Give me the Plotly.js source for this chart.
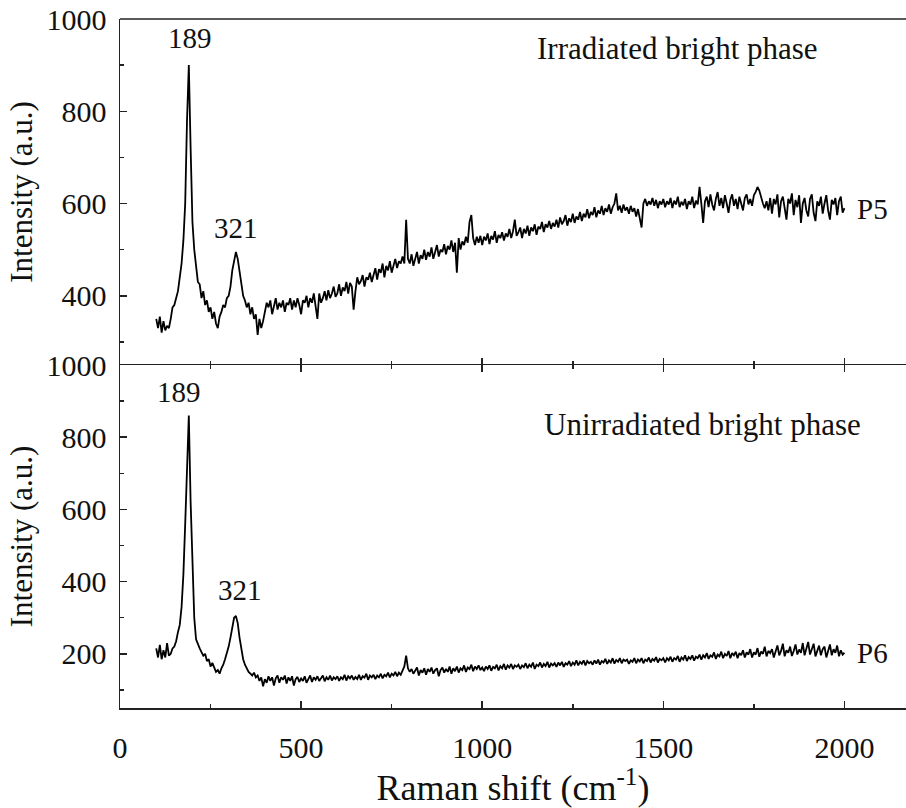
<!DOCTYPE html>
<html>
<head>
<meta charset="utf-8">
<script src="https://cdn.plot.ly/plotly-3.0.1.min.js"></script>
<style>html,body{margin:0;padding:0;background:#fff;}#chart{width:906px;height:808px;}</style>
</head>
<body>
<div id="chart"></div>
<script>
// Raman shift (cm^-1), 100..2000 every 5
const ramanShift = [];
for (let v = 100; v <= 2000; v += 5) ramanShift.push(v);

// P5: irradiated bright phase (one row = 100 cm^-1)
const p5Intensity = [
  350,330,355,320,345,325,335,330,350,375,380,395,410,440,470,520,600,780,900,720,
  560,500,460,430,425,395,410,380,390,365,375,350,365,340,330,355,365,380,375,395,
  400,420,455,480,495,480,450,425,400,390,375,385,360,375,350,360,315,350,330,345,
  365,385,375,390,360,380,395,370,385,375,390,365,385,380,395,370,390,375,395,380,
  360,390,385,400,375,395,385,405,380,350,405,385,395,410,390,412,395,405,420,398,
  405,425,400,418,410,430,405,428,420,370,410,440,425,432,445,420,440,435,450,430,
  445,460,435,458,450,470,440,465,455,475,450,468,480,460,475,470,485,470,565,480,
  470,490,465,480,495,470,488,480,500,478,495,485,505,480,498,510,485,500,495,512,
  490,508,500,520,495,515,450,525,500,518,510,528,515,560,575,525,510,528,515,530,
  510,528,520,535,512,530,522,540,515,532,525,538,520,535,528,545,525,540,565,530,
  538,548,525,545,535,552,530,548,540,555,532,550,545,560,538,555,548,562,545,558,
  550,565,548,570,555,562,575,552,568,560,578,558,572,565,582,562,578,570,588,568,
  582,575,592,570,585,578,595,575,590,582,598,578,592,600,622,585,595,580,598,585,
  592,578,595,582,590,572,588,565,548,600,610,595,605,598,612,595,608,590,605,598,
  610,592,605,598,612,590,606,598,615,592,604,596,610,588,605,598,615,590,606,598,
  636,600,558,605,615,592,620,598,585,610,625,595,612,590,618,600,580,608,620,595,
  610,588,615,600,585,612,620,598,610,595,618,625,636,628,612,600,590,605,585,612,
  578,610,598,620,570,605,615,588,565,610,600,622,575,608,592,618,558,600,612,585,
  572,610,620,580,562,605,595,615,578,600,618,585,565,608,598,612,575,605,615,580,
  590
];

// P6: unirradiated bright phase (one row = 100 cm^-1)
const p6Intensity = [
  215,190,225,185,210,190,230,195,200,215,220,235,260,280,330,420,560,700,860,620,
  420,300,240,225,215,205,195,200,180,185,165,175,160,150,155,145,160,170,185,200,
  220,245,270,300,305,285,245,210,185,170,160,150,145,140,148,135,140,125,135,110,
  130,120,138,125,135,112,132,140,120,135,128,140,118,135,125,138,112,130,136,122,
  132,125,138,120,130,140,122,135,128,138,125,133,140,124,135,128,140,126,135,130,
  138,125,135,130,142,126,138,132,140,128,136,130,142,128,138,134,145,128,140,135,
  142,130,140,135,145,132,142,138,148,135,145,140,150,138,148,142,155,165,195,160,
  150,158,145,155,162,140,155,148,160,142,158,150,162,145,155,160,138,155,162,148,
  158,150,165,145,160,152,165,148,160,155,168,150,162,158,170,152,165,158,168,155,
  162,152,165,158,168,153,164,160,170,154,166,160,172,156,168,162,172,158,168,164,
  170,158,168,163,174,160,170,164,176,158,170,166,176,162,172,166,178,162,173,168,
  174,164,176,168,178,164,174,170,180,166,176,170,182,168,178,172,182,168,180,174,
  178,170,182,173,184,170,180,176,186,172,182,176,188,173,183,178,188,174,184,180,
  184,172,182,178,188,174,184,179,188,174,184,180,190,176,186,181,191,176,186,182,
  188,176,188,182,192,178,188,184,194,178,190,184,196,180,191,186,196,181,192,188,
  198,184,196,190,202,186,196,192,204,186,198,193,206,188,200,194,208,188,202,196,
  206,188,202,196,210,190,204,198,213,190,204,198,216,192,206,200,220,193,208,202,
  213,190,206,223,196,208,228,193,210,203,220,194,208,226,198,212,203,230,196,213,
  233,198,216,228,193,210,223,196,213,220,190,208,226,196,213,203,223,193,210,198,
  203
];

const xTickVals = [0, 500, 1000, 1500, 2000];
const topYTicks = [400, 600, 800, 1000];
const botYTicks = [200, 400, 600, 800, 1000];

const serif = "Liberation Serif, Times New Roman, serif";
const axisColor = "#222";
const textColor = "#111";

const traces = [
  {x: ramanShift, y: p6Intensity, xaxis: "x", yaxis: "y", type: "scatter", mode: "lines",
   line: {color: "#000", width: 1.8}, showlegend: false, hoverinfo: "skip"},
  {x: ramanShift, y: p5Intensity, xaxis: "x2", yaxis: "y2", type: "scatter", mode: "lines",
   line: {color: "#000", width: 1.8}, showlegend: false, hoverinfo: "skip"}
];

const tickFont = {family: serif, size: 30, color: textColor};
const split = (708 - 365) / 689;
const minorX = {ticks: "inside", dtick: 250, tick0: 0, ticklen: 4, tickwidth: 1.5, tickcolor: axisColor, showgrid: false};
const minorY = {ticks: "inside", dtick: 100, tick0: 0, ticklen: 4, tickwidth: 1.5, tickcolor: axisColor, showgrid: false};

const layout = {
  width: 906, height: 808,
  margin: {l: 120, r: 0, t: 19, b: 100, pad: 0},
  paper_bgcolor: "#fff", plot_bgcolor: "#fff",
  font: {family: serif, color: textColor},
  xaxis: {
    domain: [0, 1], anchor: "y", range: [0, 2170],
    tickvals: xTickVals, ticktext: xTickVals.map(String),
    ticks: "inside", ticklen: 7, tickwidth: 1.5, tickcolor: axisColor, minor: minorX,
    showline: true, linecolor: axisColor, linewidth: 1.5, mirror: "ticks",
    showgrid: false, zeroline: false, tickfont: tickFont, ticklabelstandoff: 12,
    title: {text: "Raman shift (cm<sup>-1</sup>)", font: {family: serif, size: 36, color: textColor}, standoff: 4}
  },
  yaxis: {
    domain: [0, split], anchor: "x", range: [50, 1000],
    tickvals: botYTicks, ticktext: botYTicks.map(String),
    ticks: "inside", ticklen: 7, tickwidth: 1.5, tickcolor: axisColor, minor: minorY,
    showline: true, linecolor: axisColor, linewidth: 1.5,
    showgrid: false, zeroline: false, tickfont: tickFont, ticklabelstandoff: 6,
    title: {text: "Intensity (a.u.)", font: {family: serif, size: 31, color: textColor}, standoff: 4}
  },
  xaxis2: {
    domain: [0, 1], anchor: "y2", matches: "x", range: [0, 2170],
    tickvals: xTickVals, showticklabels: false,
    ticks: "inside", ticklen: 7, tickwidth: 1.5, tickcolor: axisColor, minor: minorX,
    showline: false, showgrid: false, zeroline: false
  },
  yaxis2: {
    domain: [split, 1], anchor: "x2", range: [250, 1000],
    tickvals: topYTicks, ticktext: topYTicks.map(String),
    ticks: "inside", ticklen: 7, tickwidth: 1.5, tickcolor: axisColor, minor: minorY,
    showline: true, linecolor: axisColor, linewidth: 1.5,
    showgrid: false, zeroline: false, tickfont: tickFont, ticklabelstandoff: 6,
    title: {text: "Intensity (a.u.)", font: {family: serif, size: 31, color: textColor}, standoff: 4}
  },
  shapes: [
    {type: "line", xref: "paper", yref: "paper", x0: 0, x1: 1, y0: 1, y1: 1,
     line: {color: axisColor, width: 1.5}}
  ],
  annotations: [
    {xref: "x2", yref: "y2", x: 192, y: 958, text: "189", showarrow: false, font: {family: serif, size: 29, color: textColor}},
    {xref: "x2", yref: "y2", x: 319, y: 548, text: "321", showarrow: false, font: {family: serif, size: 29, color: textColor}},
    {xref: "x2", yref: "y2", x: 1540, y: 935, text: "Irradiated bright phase", showarrow: false, font: {family: serif, size: 31, color: textColor}},
    {xref: "x2", yref: "y2", x: 2029, y: 589, text: "P5", showarrow: false, xanchor: "left", font: {family: serif, size: 29, color: textColor}},
    {xref: "x", yref: "y", x: 163, y: 924, text: "189", showarrow: false, font: {family: serif, size: 29, color: textColor}},
    {xref: "x", yref: "y", x: 330, y: 377, text: "321", showarrow: false, font: {family: serif, size: 29, color: textColor}},
    {xref: "x", yref: "y", x: 1609, y: 835, text: "Unirradiated bright phase", showarrow: false, font: {family: serif, size: 31, color: textColor}},
    {xref: "x", yref: "y", x: 2029, y: 202, text: "P6", showarrow: false, xanchor: "left", font: {family: serif, size: 29, color: textColor}}
  ]
};

Plotly.newPlot("chart", traces, layout, {staticPlot: true, displayModeBar: false});
</script>
</body>
</html>
